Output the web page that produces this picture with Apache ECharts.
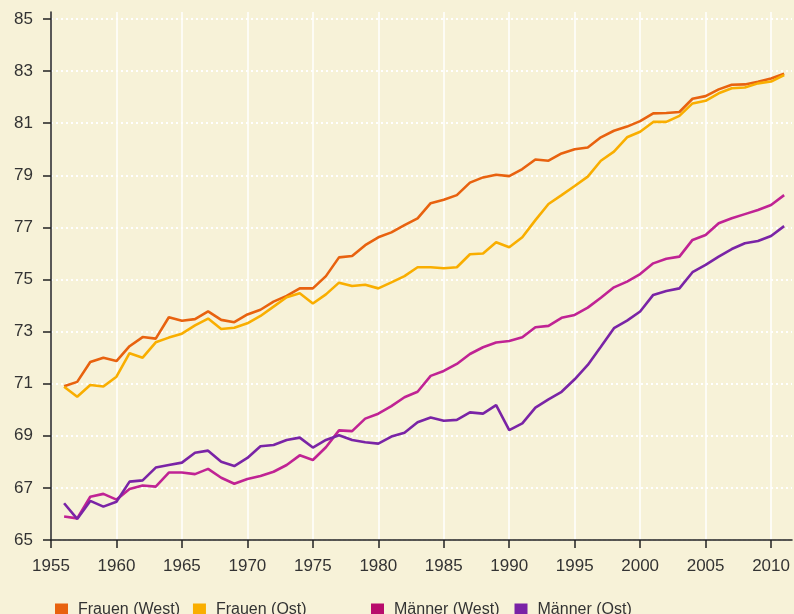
<!DOCTYPE html>
<html>
<head>
<meta charset="utf-8">
<script src="https://cdn.jsdelivr.net/npm/echarts@6/dist/echarts.min.js"></script>
<style>
  html, body { margin: 0; padding: 0; background: #f7f2d8; }
  #chart { width: 794px; height: 614px; }
</style>
</head>
<body>
<div id="chart"></div>
<script>
// Lebenserwartung bei Geburt, West/Ost, 1956-2011
var jahre = [];
for (var j = 1956; j <= 2011; j++) jahre.push(j);

var frauenWest = [70.9, 71.07, 71.83, 72.0, 71.87, 72.44, 72.79, 72.73, 73.55, 73.42, 73.48, 73.78, 73.45, 73.36, 73.66,
  73.84, 74.15, 74.37, 74.66, 74.66, 75.13, 75.85, 75.9, 76.32, 76.62, 76.81, 77.09, 77.35, 77.93, 78.06,
  78.24, 78.72, 78.92, 79.02, 78.97, 79.24, 79.61, 79.56, 79.84, 80.0, 80.07, 80.46, 80.71, 80.87, 81.08,
  81.38, 81.39, 81.43, 81.94, 82.04, 82.3, 82.48, 82.49, 82.59, 82.72, 82.9];
var frauenOst = [70.88, 70.5, 70.95, 70.89, 71.27, 72.17, 72.0, 72.59, 72.77, 72.92, 73.24, 73.5, 73.1, 73.15, 73.32,
  73.6, 73.96, 74.32, 74.47, 74.08, 74.43, 74.88, 74.75, 74.8, 74.66, 74.89, 75.13, 75.47, 75.47, 75.43,
  75.47, 75.97, 76.0, 76.43, 76.24, 76.62, 77.28, 77.9, 78.24, 78.59, 78.95, 79.56, 79.91, 80.46, 80.67,
  81.05, 81.05, 81.28, 81.76, 81.86, 82.15, 82.34, 82.37, 82.53, 82.6, 82.85];
var maennerWest = [65.9, 65.83, 66.66, 66.77, 66.55, 66.96, 67.09, 67.05, 67.59, 67.59, 67.53, 67.73, 67.39, 67.16, 67.34,
  67.46, 67.62, 67.88, 68.25, 68.07, 68.56, 69.21, 69.18, 69.66, 69.85, 70.14, 70.48, 70.69, 71.3, 71.49,
  71.76, 72.14, 72.4, 72.58, 72.64, 72.78, 73.17, 73.22, 73.53, 73.64, 73.92, 74.3, 74.7, 74.92, 75.21,
  75.62, 75.8, 75.88, 76.52, 76.71, 77.16, 77.35, 77.51, 77.67, 77.86, 78.24];
var maennerOst = [66.41, 65.81, 66.5, 66.28, 66.47, 67.24, 67.29, 67.78, 67.88, 67.97, 68.35, 68.43, 68.0, 67.84, 68.15,
  68.6, 68.65, 68.84, 68.93, 68.55, 68.84, 69.02, 68.84, 68.75, 68.7, 68.97, 69.12, 69.52, 69.7, 69.58,
  69.61, 69.9, 69.85, 70.18, 69.22, 69.48, 70.08, 70.4, 70.69, 71.17, 71.72, 72.42, 73.13, 73.42, 73.77,
  74.41, 74.56, 74.66, 75.28, 75.56, 75.88, 76.17, 76.39, 76.48, 76.67, 77.05];

var xTicks = [1955, 1960, 1965, 1970, 1975, 1980, 1985, 1990, 1995, 2000, 2005, 2010];
var yTicks = [65, 67, 69, 71, 73, 75, 77, 79, 81, 83, 85];

var namen = ['Frauen (West)', 'Frauen (Ost)', 'Männer (West)', 'Männer (Ost)'];
var farben = ['#e8620f', '#f9ae00', '#c02394', '#7a24a6'];
var legendFarben = ['#e8620f', '#f9ae00', '#b80c6c', '#7a22a6'];

function paare(werte) {
  var out = [];
  for (var i = 0; i < werte.length; i++) out.push([jahre[i], werte[i]]);
  return out;
}

var reihen = [frauenWest, frauenOst, maennerWest, maennerOst];
var serien = [];
for (var k = 0; k < reihen.length; k++) {
  serien.push({
    name: namen[k],
    type: 'line',
    data: paare(reihen[k]),
    showSymbol: false,
    symbol: 'none',
    lineStyle: { width: 2.6, color: farben[k] },
    itemStyle: { color: farben[k] },
    animation: false
  });
}

function legendDaten(von, bis) {
  var d = [];
  for (var i = von; i < bis; i++) d.push({ name: namen[i], itemStyle: { color: legendFarben[i] } });
  return d;
}

var myChart = echarts.init(document.getElementById('chart'));
var schrift = '"Liberation Sans", Arial, sans-serif';
var option = {
  backgroundColor: '#f7f2d8',
  animation: false,
  grid: { left: 51, right: 2, top: 12, bottom: 74 },
  legend: [
    {
      left: 50, top: 597, icon: 'rect', itemWidth: 13, itemHeight: 13, itemGap: 13,
      textStyle: { fontFamily: schrift, fontSize: 16, color: '#333', padding: [0, 0, 0, 5] },
      data: legendDaten(0, 2)
    },
    {
      left: 366, top: 597, icon: 'rect', itemWidth: 13, itemHeight: 13, itemGap: 15,
      textStyle: { fontFamily: schrift, fontSize: 16, color: '#333', padding: [0, 0, 0, 5] },
      data: legendDaten(2, 4)
    }
  ],
  xAxis: {
    type: 'value',
    min: 1955,
    max: 2011.6,
    axisLine: { show: true, lineStyle: { color: '#222', width: 1.5 } },
    axisTick: { show: true, length: 8, customValues: xTicks, lineStyle: { color: '#222', width: 1.5 } },
    axisLabel: {
      customValues: xTicks, margin: 18, fontFamily: schrift, fontSize: 17, color: '#333',
      formatter: function (v) { return String(Math.round(v)); }
    },
    splitLine: { show: true, lineStyle: { color: '#ffffff', width: 1.5, type: 'solid' } }
  },
  yAxis: {
    type: 'value',
    min: 65,
    max: 85.27,
    axisLine: { show: true, lineStyle: { color: '#222', width: 1.5 } },
    axisTick: { show: true, length: 8, customValues: yTicks, lineStyle: { color: '#222', width: 1.5 } },
    axisLabel: { customValues: yTicks, margin: 18, fontFamily: schrift, fontSize: 17, color: '#333' },
    splitLine: { show: true, lineStyle: { color: '#ffffff', width: 2, type: [2, 3] } }
  },
  series: serien
};
myChart.setOption(option);
</script>
</body>
</html>
